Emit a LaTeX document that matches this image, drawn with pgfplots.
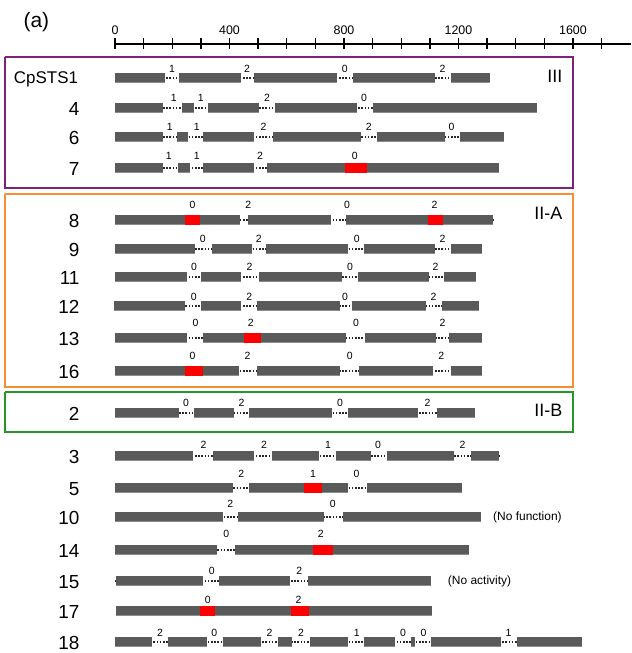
\documentclass[border=0pt]{standalone}
\usepackage{pgfplots}
\usepackage{pgfplotstable}
\pgfplotsset{compat=1.18}
\usepackage{fontspec}
\setmainfont{Liberation Sans}
\definecolor{barGray}{RGB}{90,90,90}
\definecolor{barEdge}{RGB}{140,140,140}
\definecolor{intronC}{RGB}{40,40,40}
\definecolor{boxPurple}{RGB}{125,35,125}
\definecolor{boxOrange}{RGB}{250,140,50}
\definecolor{boxGreen}{RGB}{40,150,40}

\pgfplotstableread{
x1 x2 y
0 173 78
225 439 78
487 775 78
832 1118 78
1173 1309 78
0 168 108
234 276 108
326 502 108
559 845 108
900 1474 108
0 167 137
218 254 137
307 486 137
552 859 137
914 1152 137
1204 1360 137
0 166 168
220 262 168
307 486 168
532 1340 168
0 437 220
463 755 220
807 1322 220
0 281 249
340 477 249
528 815 249
870 1119 249
1173 1283 249
0 253 277
302 441 277
504 793 277
849 1096 277
1148 1260 277
-5 244 306
300 441 306
495 786 306
828 1088 306
1141 1270 306
0 253 338
309 807 338
873 1120 338
1168 1283 338
0 434 371
497 786 371
852 1110 371
1173 1283 371
0 222 413
276 415 413
469 758 413
814 1058 413
1124 1256 413
0 274 456
344 487 456
550 713 456
772 895 456
950 1183 456
1242 1343 456
0 411 488
469 815 488
880 1213 488
0 376 517
431 731 517
796 1277 517
0 355 550
420 1235 550
3 307 581
364 613 581
676 1105 581
3 1107 611
0 131 642
184 320 642
376 511 642
570 619 642
681 815 642
870 977 642
1033 1049 642
1103 1347 642
1404 1632 642
}\exons

\pgfplotstableread{
x1 x2 y
804 880 168
246 298 220
1093 1147 220
451 511 338
246 306 371
661 723 488
692 762 550
298 348 611
616 678 611
}\reds

\pgfplotstableread{
x1 x2 y
0 1309 78
0 1474 108
0 1360 137
0 1340 168
0 1322 220
0 1283 249
0 1260 277
0 1270 306
0 1283 338
0 1283 371
0 1256 413
0 1343 456
0 1213 488
0 1277 517
0 1235 550
0 1105 581
0 1632 642
}\introns

\pgfplotstableread{
x y lab
199 69 1
461 69 2
803 69 0
1144 69 2
205 98 1
300 98 1
531 98 2
870 98 0
191 127 1
286 127 1
519 127 2
887 127 2
1176 127 0
188 156 1
286 156 1
507 156 2
838 156 0
271 205 0
466 205 2
811 205 0
1116 205 2
307 239 0
502 239 2
845 239 0
1144 239 2
276 267 0
470 267 2
821 267 0
1120 267 2
275 297 0
469 297 2
804 297 0
1113 297 2
281 323 0
474 323 2
842 323 0
1144 323 2
271 356 0
463 356 2
820 356 0
1140 356 2
248 403 0
442 403 2
786 403 0
1092 403 2
309 445 2
521 445 2
744 445 1
919 445 0
1214 445 2
441 474 2
692 474 1
844 474 0
403 504 2
761 504 0
389 534 0
719 534 2
338 571 0
644 571 2
324 600 0
641 600 2
157 633 2
347 633 0
540 633 2
650 633 2
845 633 1
1006 633 0
1078 633 0
1375 633 1
}\phases

\begin{document}
\begin{tikzpicture}
\begin{axis}[
  scale only axis, width=631bp, height=653bp,
  xmin=-401.7, xmax=1802.6, ymin=0, ymax=653, y dir=reverse,
  axis line style={draw=none}, xtick=\empty, ytick=\empty,
  clip=false,
]
% boxes
\addplot[boxPurple, line width=1.2bp, mark=none] coordinates {(-384,57) (1600,57) (1600,188) (-384,188) (-384,57)};
\addplot[boxOrange, line width=1.2bp, mark=none] coordinates {(-384,194) (1600,194) (1600,387) (-384,387) (-384,194)};
\addplot[boxGreen, line width=1.2bp, mark=none] coordinates {(-384,392) (1600,392) (1600,432) (-384,432) (-384,392)};
% ruler
\addplot[black, line width=1.8bp, mark=none] coordinates {(0,44) (1802.6,44)};
\addplot[black, only marks, mark=|, mark size=5.5bp, mark options={line width=1.3bp}] coordinates {
(0,44) (100,44) (200,44) (300,44) (400,44) (500,44) (600,44) (700,44) (800,44)
(900,44) (1000,44) (1100,44) (1200,44) (1300,44) (1400,44) (1500,44) (1600,44) (1700,44)};
\addplot[draw=none, mark=none, nodes near coords, point meta=explicit symbolic,
  every node near coord/.style={anchor=center, inner sep=0pt, font=\fontsize{12.5}{14}\selectfont}]
  coordinates {(0,30) [0] (400,30) [400] (800,30) [800] (1200,30) [1200] (1600,30) [1600]};
% introns
\addplot[intronC, line width=1.6bp, dash pattern=on 1.6bp off 1.6bp, mark=none,
  quiver={u={\thisrow{x2}-\thisrow{x1}}, v=0}] table[x=x1, y=y] {\introns};
% exons
\addplot[barEdge, line width=10.5bp, mark=none,
  quiver={u={\thisrow{x2}-\thisrow{x1}}, v=0}] table[x=x1, y=y] {\exons};
\addplot[barGray, line width=9bp, mark=none,
  quiver={u={\thisrow{x2}-\thisrow{x1}}, v=0}] table[x=x1, y=y] {\exons};
% red
\addplot[red, line width=10.5bp, mark=none,
  quiver={u={\thisrow{x2}-\thisrow{x1}}, v=0}] table[x=x1, y=y] {\reds};
% phases
\addplot[draw=none, mark=none, nodes near coords, point meta=explicit symbolic,
  every node near coord/.style={anchor=center, inner sep=0pt, font=\fontsize{10.5}{12}\selectfont}]
  table[x=x, y=y, meta=lab] {\phases};
% text
\node[anchor=west, inner sep=0pt, font=\fontsize{21}{24}\selectfont] at (axis cs:-320,22) {(a)};
\node[anchor=east, font=\fontsize{17}{20}\selectfont] at (axis cs:-117,79) {CpSTS1};
\foreach \lab/\yy in {4/109,6/138,7/169,8/221,9/250,11/278,12/307,13/339,16/372,2/414,3/457,5/489,10/518,14/551,15/582,17/612,18/643}{
  \edef\temp{\noexpand\node[anchor=east, font=\noexpand\fontsize{19}{22}\noexpand\selectfont] at (axis cs:-112,\yy) {\lab};}
  \temp
}
\node[anchor=east, font=\fontsize{18}{20}\selectfont] at (axis cs:1575,76) {III};
\node[anchor=east, font=\fontsize{18}{20}\selectfont] at (axis cs:1575,213) {II-A};
\node[anchor=east, font=\fontsize{18}{20}\selectfont] at (axis cs:1575,410) {II-B};
\node[anchor=west, font=\fontsize{12}{14}\selectfont] at (axis cs:1309,517) {(No function)};
\node[anchor=west, font=\fontsize{12}{14}\selectfont] at (axis cs:1151,581) {(No activity)};
\end{axis}
\end{tikzpicture}
\end{document}
